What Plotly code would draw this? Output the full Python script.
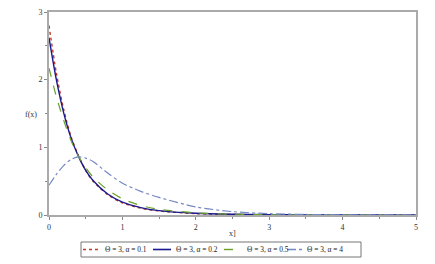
import plotly.graph_objects as go

x_vals = [0, 0.1, 0.2, 0.3, 0.4, 0.5, 0.6, 0.8, 1.0, 1.25, 1.5, 2.0, 2.5, 3.0, 3.5, 4.0, 4.5, 5.0]
f_a01 = [2.80, 2.10, 1.56, 1.16, 0.88, 0.66, 0.50, 0.30, 0.18, 0.10, 0.06, 0.020, 0.008, 0.003, 0.001, 0.0005, 0.0002, 0.0001]
f_a02 = [2.62, 2.00, 1.51, 1.14, 0.87, 0.66, 0.51, 0.31, 0.19, 0.11, 0.065, 0.025, 0.010, 0.004, 0.002, 0.001, 0.0004, 0.0002]
f_a05 = [2.17, 1.75, 1.40, 1.10, 0.87, 0.70, 0.56, 0.37, 0.24, 0.14, 0.085, 0.032, 0.012, 0.005, 0.002, 0.001, 0.0004, 0.0002]
f_a4 = [0.44, 0.60, 0.73, 0.82, 0.86, 0.84, 0.79, 0.62, 0.47, 0.35, 0.26, 0.12, 0.05, 0.02, 0.008, 0.003, 0.001, 0.0005]

names = ["Θ = 3, α = 0.1", "Θ = 3, α = 0.2", "Θ = 3, α = 0.5", "Θ = 3, α = 4"]
colors = ["#c0392b", "#1a1a8c", "#6a9f2a", "#7588c4"]
dashes = ["dot", "solid", "dash", "dashdot"]
widths = [1.4, 1.4, 1.2, 1.2]
series = [f_a01, f_a02, f_a05, f_a4]

# layout geometry (pixels)
W, H = 435, 264
L, R, T, B = 49, 19, 12, 49
pw, ph = W - L - R, H - T - B
def px(xp):
    return (xp - L) / pw
def py(yp):
    return (H - B - yp) / ph

fam = "Liberation Serif, Times New Roman, serif"

fig = go.Figure()
for name, ys, c, d, w in zip(names, series, colors, dashes, widths):
    fig.add_trace(go.Scatter(x=x_vals, y=ys, mode="lines", name=name,
                             line=dict(color=c, dash=d, width=w, shape="spline", smoothing=0.8)))

# manual legend (compact, like the reference)
leg_sym = [(83, 100), (153, 171), (224, 242), (287, 302)]
leg_txt = [103, 174, 245, 305]
leg_y = 249.5
shapes = [dict(type="rect", xref="paper", yref="paper", x0=px(81), x1=px(361), y0=py(242), y1=py(257),
               line=dict(color="#777", width=1), fillcolor="white", layer="above")]
annotations = []
for (s0, s1), tx, name, c, d, w in zip(leg_sym, leg_txt, names, colors, dashes, widths):
    shapes.append(dict(type="line", xref="paper", yref="paper", x0=px(s0), x1=px(s1),
                       y0=py(leg_y), y1=py(leg_y), line=dict(color=c, dash=d, width=w + 0.2)))
    annotations.append(dict(text=name, xref="paper", yref="paper", x=px(tx), y=py(leg_y),
                            xanchor="left", yanchor="middle", showarrow=False,
                            font=dict(size=7.4, family=fam, color="#222")))

annotations += [
    dict(text="f(x)", xref="paper", yref="paper", x=px(31), y=py(115), xanchor="center",
         yanchor="middle", showarrow=False, font=dict(size=8, family=fam, color="#333")),
    dict(text="x]", xref="paper", yref="paper", x=px(232), y=py(233), xanchor="center",
         yanchor="middle", showarrow=False, font=dict(size=8, family=fam, color="#333")),
]

fig.update_layout(
    width=W, height=H,
    margin=dict(l=L, r=R, t=T, b=B, autoexpand=False),
    plot_bgcolor="white", paper_bgcolor="white",
    font=dict(family=fam, size=8, color="#333"),
    showlegend=False,
    xaxis=dict(range=[0, 5], tickvals=[0, 1, 2, 3, 4, 5], ticks="outside", ticklen=3,
               tickcolor="#888", showline=True, linecolor="#aaa", linewidth=2, mirror=True,
               showgrid=False, zeroline=False,
               minor=dict(tickvals=[0.5, 1.5, 2.5, 3.5, 4.5], ticks="outside", ticklen=2, tickcolor="#888")),
    yaxis=dict(range=[0, 3], tickvals=[0, 1, 2, 3], ticks="outside", ticklen=3,
               tickcolor="#888", showline=True, linecolor="#aaa", linewidth=2, mirror=True,
               showgrid=False, zeroline=False,
               minor=dict(tickvals=[0.5, 1.5, 2.5], ticks="outside", ticklen=2, tickcolor="#888")),
    shapes=shapes,
    annotations=annotations,
)
fig.write_html("out.html")
